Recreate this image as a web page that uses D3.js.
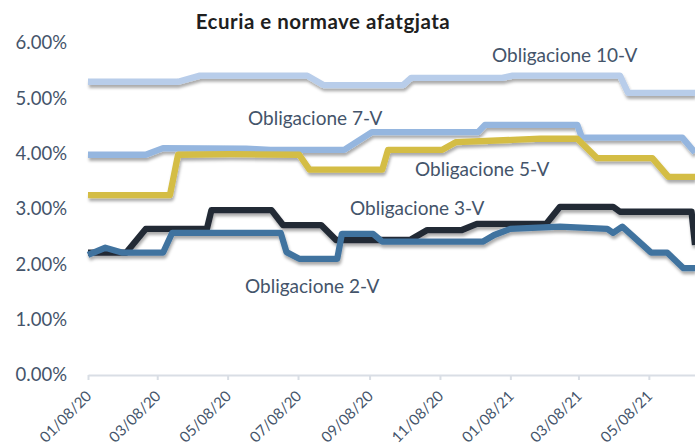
<!DOCTYPE html>
<html>
<head>
<meta charset="utf-8">
<script src="https://cdn.jsdelivr.net/npm/d3@7"></script>
<style>
  html, body { margin: 0; padding: 0; background: #fff; }
  svg { display: block; }
  text { font-family: Lato, "Open Sans", sans-serif; }
</style>
</head>
<body>
<svg id="chart" width="695" height="448"></svg>
<script>
// ---- data ----
const title = "Ecuria e normave afatgjata";
const seriesNames = ["Obligacione 10-V", "Obligacione 7-V", "Obligacione 5-V", "Obligacione 3-V", "Obligacione 2-V"];
const seriesColors = ["#b8cdea", "#95b6df", "#d4bd44", "#222a36", "#41739f"];

const bond10 = [
  ["2020-01-08", 5.30], ["2020-03-26", 5.30], ["2020-04-14", 5.41], ["2020-07-16", 5.41],
  ["2020-07-30", 5.24], ["2020-10-07", 5.24], ["2020-10-14", 5.37], ["2021-01-01", 5.37],
  ["2021-01-10", 5.41], ["2021-04-13", 5.41], ["2021-04-20", 5.10], ["2021-06-17", 5.10]
];
const bond7 = [
  ["2020-01-08", 3.98], ["2020-02-27", 3.98], ["2020-03-13", 4.10], ["2020-05-24", 4.09],
  ["2020-06-14", 4.07], ["2020-08-17", 4.07], ["2020-09-10", 4.39], ["2020-12-11", 4.39],
  ["2020-12-17", 4.52], ["2021-03-07", 4.52], ["2021-03-11", 4.29], ["2021-06-06", 4.29],
  ["2021-06-17", 4.02]
];
const bond5 = [
  ["2020-01-08", 3.25], ["2020-03-19", 3.25], ["2020-03-26", 3.98], ["2020-05-10", 3.99],
  ["2020-07-09", 3.98], ["2020-07-18", 3.71], ["2020-09-19", 3.71], ["2020-09-24", 4.07],
  ["2020-11-10", 4.07], ["2020-11-22", 4.21], ["2021-02-03", 4.27], ["2021-03-07", 4.27],
  ["2021-03-24", 3.92], ["2021-05-11", 3.92], ["2021-05-25", 3.58], ["2021-06-17", 3.58]
];
const bond3 = [
  ["2020-01-08", 2.21], ["2020-02-10", 2.21], ["2020-02-27", 2.64], ["2020-04-20", 2.64],
  ["2020-04-24", 2.98], ["2020-06-15", 2.98], ["2020-06-25", 2.71], ["2020-07-28", 2.71],
  ["2020-08-10", 2.44], ["2020-10-13", 2.44], ["2020-10-28", 2.62], ["2020-11-27", 2.62],
  ["2020-12-10", 2.73], ["2021-02-08", 2.73], ["2021-02-20", 3.04], ["2021-04-07", 3.04],
  ["2021-04-13", 2.95], ["2021-06-14", 2.95], ["2021-06-17", 2.35]
];
const bond2 = [
  ["2020-01-08", 2.17], ["2020-01-23", 2.30], ["2020-02-07", 2.21], ["2020-03-13", 2.21],
  ["2020-03-21", 2.57], ["2020-06-23", 2.57], ["2020-06-28", 2.22], ["2020-07-09", 2.10],
  ["2020-08-11", 2.10], ["2020-08-15", 2.55], ["2020-09-11", 2.55], ["2020-09-19", 2.41],
  ["2020-12-15", 2.41], ["2020-12-25", 2.53], ["2021-01-08", 2.64], ["2021-02-20", 2.68],
  ["2021-04-02", 2.64], ["2021-04-07", 2.57], ["2021-04-15", 2.68], ["2021-05-10", 2.21],
  ["2021-05-24", 2.21], ["2021-06-07", 1.93], ["2021-06-17", 1.93]
];
const seriesData = [bond10, bond7, bond5, bond3, bond2];

const yTicks = [0, 1, 2, 3, 4, 5, 6];
const xTickDates = ["2020-01-08", "2020-03-08", "2020-05-08", "2020-07-08", "2020-09-08",
                    "2020-11-08", "2021-01-08", "2021-03-08", "2021-05-08"];
const xDomain = ["2020-01-08", "2021-06-17"];

// label placement (start x, baseline y) in pixels
const labelPos = [[492, 62], [248, 125], [415, 176], [350, 215], [245, 293]];

// ---- chart ----
const parse = d3.utcParse("%Y-%m-%d");
const svg = d3.select("#chart");
const x = d3.scaleUtc().domain(xDomain.map(parse)).range([88, 695]);
const y = d3.scaleLinear().domain([0, 6]).range([375, 43]);

const defs = svg.append("defs");
const f = defs.append("filter").attr("id", "shadow")
  .attr("x", "-5%").attr("y", "-20%").attr("width", "110%").attr("height", "140%");
f.append("feDropShadow").attr("dx", 1).attr("dy", 3).attr("stdDeviation", 1.4)
  .attr("flood-color", "#000").attr("flood-opacity", 0.33);

// title
svg.append("text").attr("x", 323).attr("y", 29).attr("text-anchor", "middle")
  .attr("font-size", 20.5).attr("font-weight", "bold").attr("letter-spacing", 0.5)
  .attr("fill", "#1f1f1f").text(title);

// y axis labels
const yAxis = d3.axisLeft(y).tickValues(yTicks).tickSize(0).tickPadding(0)
  .tickFormat(d => d3.format(".2f")(d) + "%");
const gy = svg.append("g").attr("transform", "translate(67,0)").call(yAxis);
gy.select(".domain").remove();
gy.selectAll("text").attr("font-size", 18.5).attr("fill", "#44546a")
  .attr("font-family", "Lato, sans-serif");

// x axis
const xAxis = d3.axisBottom(x).tickValues(xTickDates.map(parse)).tickSize(5).tickSizeOuter(0)
  .tickFormat(d3.utcFormat("%m/%d/%y"));
const gx = svg.append("g").attr("transform", "translate(0,375)").call(xAxis);
gx.select(".domain").attr("stroke", "#d9dee5").attr("stroke-width", 2);
gx.selectAll(".tick line").attr("stroke", "#d9dee5").attr("stroke-width", 2);
gx.selectAll("text").attr("font-size", 15).attr("fill", "#44546a")
  .attr("font-family", "Lato, sans-serif")
  .attr("text-anchor", "end").attr("dy", 0).attr("y", 0)
  .attr("transform", "translate(4,22) rotate(-45)");

// lines
const line = d3.line().x(d => x(parse(d[0]))).y(d => y(d[1]));
const order = [0, 1, 2, 3, 4];
svg.append("g").attr("filter", "url(#shadow)")
  .selectAll("path").data(order).join("path")
  .attr("d", i => line(seriesData[i]))
  .attr("fill", "none").attr("stroke", i => seriesColors[i]).attr("stroke-width", 6.3)
  .attr("stroke-linejoin", "round");

// series labels
svg.append("g").selectAll("text").data(seriesNames).join("text")
  .attr("x", (d, i) => labelPos[i][0]).attr("y", (d, i) => labelPos[i][1])
  .attr("font-size", 19).attr("fill", "#44546a").text(d => d);
</script>
</body>
</html>
